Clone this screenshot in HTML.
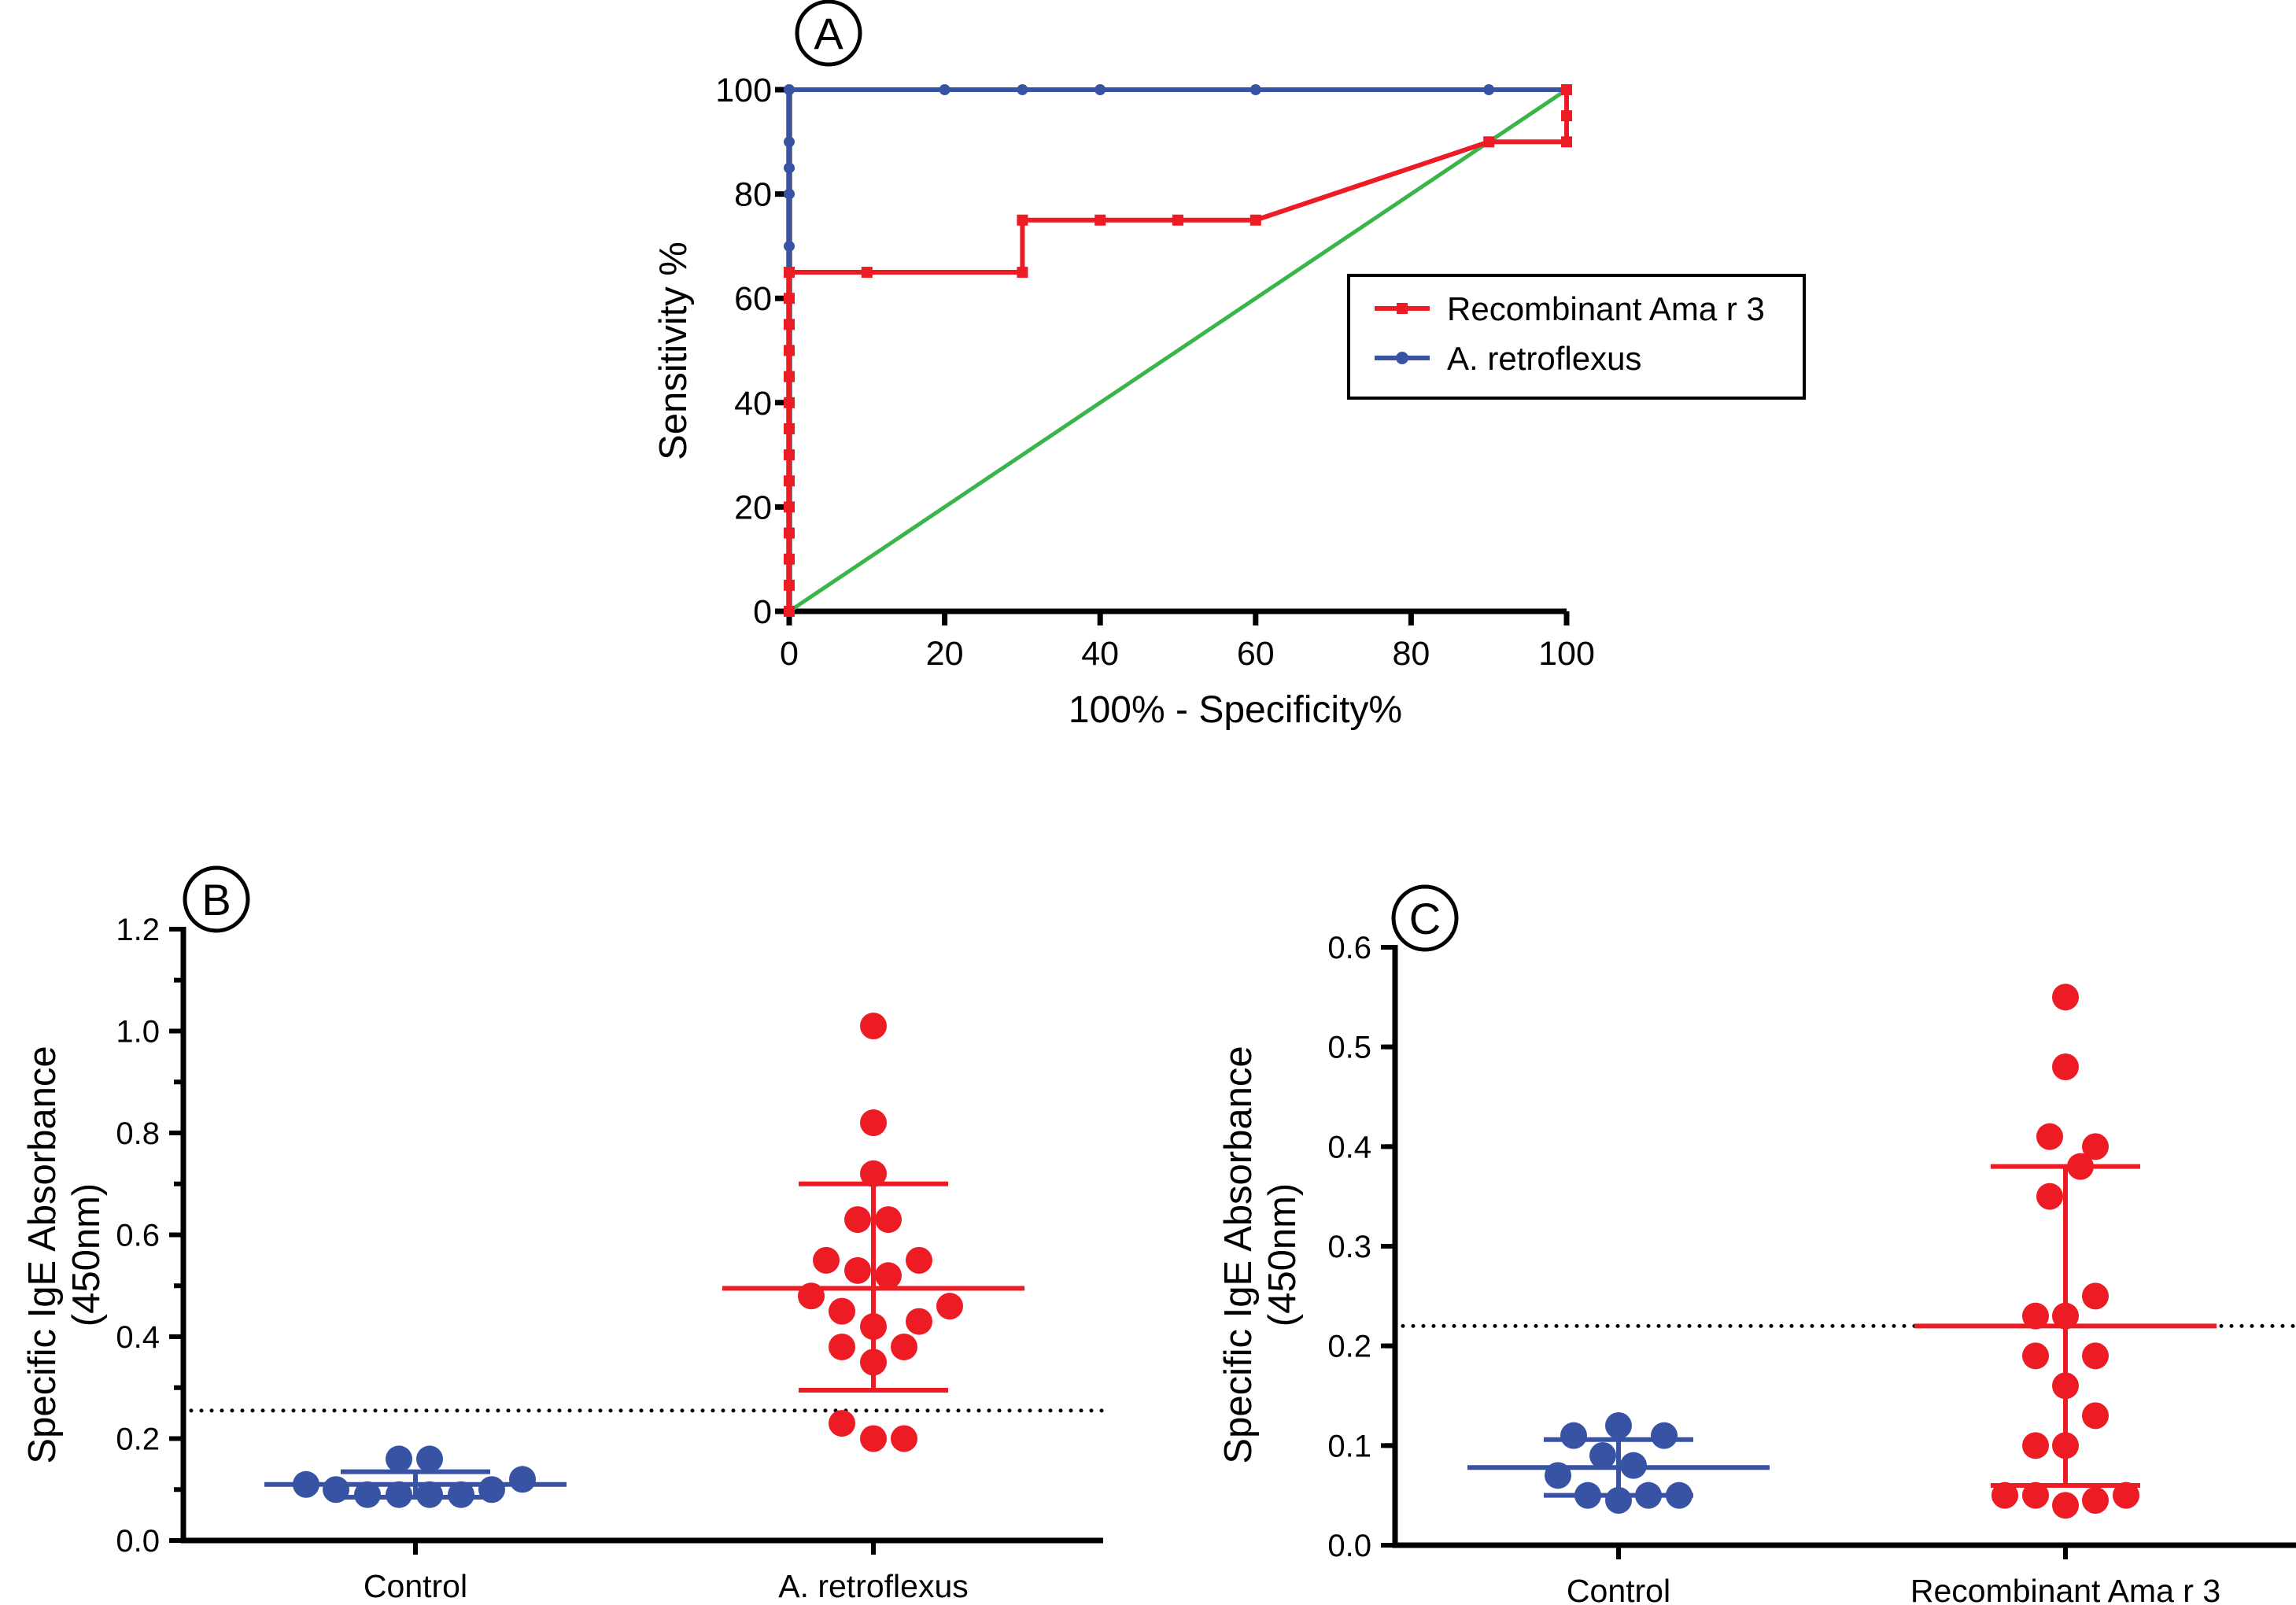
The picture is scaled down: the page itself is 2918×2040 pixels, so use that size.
<!DOCTYPE html>
<html><head><meta charset="utf-8"><style>
html,body{margin:0;padding:0;background:#fff;}
svg{display:block;font-family:"Liberation Sans",Arial,sans-serif;}
</style></head><body>
<svg id="fig" width="2918" height="2040" viewBox="0 0 2918 2040" xmlns="http://www.w3.org/2000/svg">
<g id="pa"></g>
<g id="pb"></g>
<g id="pc"></g>
</svg>
<script>
// ---- Panel A data ----
const rocTicks = [0,20,40,60,80,100];
const redX = [0,0,0,0,0,0,0,0,0,0,0,0,0,0,0,10,30,30,40,50,60,90,100,100,100];
const redY = [0,5,10,15,20,25,30,35,40,45,50,55,60,65,65,65,65,75,75,75,75,90,90,95,100];
const blueX = [0,0,0,0,0,0,0,20,30,40,60,90,100];
const blueY = [0,40,70,80,85,90,100,100,100,100,100,100,100];
const diagX = [0,100];
const diagY = [0,100];
// ---- Panel B data ----
const bTicks = [0.0,0.2,0.4,0.6,0.8,1.0,1.2];
const bCats = ["Control","A. retroflexus"];
const bCtrlVals = [0.11,0.10,0.09,0.09,0.09,0.09,0.10,0.12,0.16,0.16];
const bCtrlOff = [-139,-101,-61,-21,18,58,97,136,-21,18];
const bCtrlStats = [0.11,0.085,0.135];
const bRedVals = [1.01,0.82,0.72,0.63,0.63,0.55,0.55,0.53,0.52,0.48,0.46,0.45,0.43,0.42,0.38,0.38,0.35,0.23,0.20,0.20];
const bRedOff = [0,0,0,-20,19,-60,58,-20,19,-79,97,-40,58,0,-40,39,0,-40,0,39];
const bRedStats = [0.495,0.295,0.70];
const bCutoff = 0.255;
// ---- Panel C data ----
const cTicks = [0.0,0.1,0.2,0.3,0.4,0.5,0.6];
const cCats = ["Control","Recombinant Ama r 3"];
const cCtrlVals = [0.11,0.12,0.11,0.09,0.08,0.07,0.05,0.045,0.05,0.05];
const cCtrlOff = [-57,0,58,-20,19,-77,-39,0,38,77];
const cCtrlStats = [0.078,0.05,0.106];
const cRedVals = [0.55,0.48,0.41,0.40,0.38,0.35,0.25,0.23,0.23,0.19,0.19,0.16,0.13,0.10,0.10,0.05,0.05,0.04,0.045,0.05];
const cRedOff = [0,0,-20,38,19,-20,38,-38,0,-38,38,0,38,-38,0,-77,-38,0,38,77];
const cRedStats = [0.22,0.06,0.38];
const cCutoff = 0.22;

const NS="http://www.w3.org/2000/svg";
const RED="#ed1c24", BLUE="#3953a4", GREEN="#3ab54a";
function mk(parent,tag,attrs,text){const e=document.createElementNS(NS,tag);for(const k in attrs)e.setAttribute(k,attrs[k]);if(text!==undefined)e.textContent=text;parent.appendChild(e);return e;}

// ===== Panel A =====
(function(){
const g=document.getElementById('pa');
const X0=1003,X1=1991,Y0=777,Y1=114;
const sx=v=>X0+(X1-X0)*v/100, sy=v=>Y0-(Y0-Y1)*v/100;
let c=mk(g,'circle',{cx:1053,cy:42,r:40,fill:'none',stroke:'#000','stroke-width':5});


let t=mk(g,'text',{x:1053,y:62,'font-size':56,'text-anchor':'middle'},'A');


// axes first
let ax=mk(g,'path',{d:`M${X0} ${Y1-3}V${Y0}H${X1}`,fill:'none',stroke:'#000','stroke-width':7});


rocTicks.forEach(v=>{
 mk(g,'line',{x1:X0-18,y1:sy(v),x2:X0,y2:sy(v),stroke:'#000','stroke-width':7});
 let yl=mk(g,'text',{x:X0-22,y:sy(v)+15,'font-size':43,'text-anchor':'end'},String(v));
 
 
 mk(g,'line',{x1:sx(v),y1:Y0,x2:sx(v),y2:Y0+18,stroke:'#000','stroke-width':7});
 let xl=mk(g,'text',{x:sx(v),y:Y0+68,'font-size':43,'text-anchor':'middle'},String(v));
 
 
});
// diagonal
let d=mk(g,'line',{x1:sx(diagX[0]),y1:sy(diagY[0]),x2:sx(diagX[1]),y2:sy(diagY[1]),stroke:GREEN,'stroke-width':5});


// blue
let bp=mk(g,'polyline',{points:blueX.map((x,i)=>sx(x)+','+sy(blueY[i])).join(' '),fill:'none',stroke:BLUE,'stroke-width':6});


blueX.forEach((x,i)=>{let m=mk(g,'circle',{cx:sx(x),cy:sy(blueY[i]),r:7,fill:BLUE});

});
// red
let rp=mk(g,'polyline',{points:redX.map((x,i)=>sx(x)+','+sy(redY[i])).join(' '),fill:'none',stroke:RED,'stroke-width':6});


redX.forEach((x,i)=>{let m=mk(g,'rect',{x:sx(x)-7,y:sy(redY[i])-7,width:14,height:14,fill:RED});

});
let xt=mk(g,'text',{x:1570,y:918,'font-size':48,'text-anchor':'middle'},'100% - Specificity%');


let yt=mk(g,'text',{x:0,y:0,'font-size':49,'text-anchor':'middle',transform:'translate(872,446) rotate(-90)'},'Sensitivity %');


// legend
let lg=mk(g,'g',{});


mk(lg,'rect',{x:1714,y:350,width:579,height:156,fill:'#fff',stroke:'#000','stroke-width':4});
let e1=mk(lg,'g',{});


mk(e1,'line',{x1:1747,y1:392,x2:1817,y2:392,stroke:RED,'stroke-width':6});
mk(e1,'rect',{x:1775,y:385,width:14,height:14,fill:RED});
mk(e1,'text',{x:1839,y:407,'font-size':42},'Recombinant Ama r 3');
let e2=mk(lg,'g',{});


mk(e2,'line',{x1:1747,y1:455,x2:1817,y2:455,stroke:BLUE,'stroke-width':6});
mk(e2,'circle',{cx:1782,cy:455,r:8,fill:BLUE});
mk(e2,'text',{x:1839,y:470,'font-size':42},'A. retroflexus');
})();

// ===== Scatter panels =====
function scatter(gid,letter,lx,ly,AX,XEND,Y0,YT,tmax,ticks,minorStep,cats,catX,ctrlVals,ctrlOff,ctrlStats,redVals,redOff,redStats,cutoff,titleX){
const g=document.getElementById(gid);
const sy=v=>Y0-(Y0-YT)*v/tmax;
let c=mk(g,'circle',{cx:lx,cy:ly,r:40,fill:'none',stroke:'#000','stroke-width':5});


let t=mk(g,'text',{x:lx,y:ly+20,'font-size':56,'text-anchor':'middle'},letter);


// cutoff
let cl=mk(g,'line',{x1:AX+10,y1:sy(cutoff),x2:XEND,y2:sy(cutoff),stroke:'#000','stroke-width':5,'stroke-dasharray':'0 13','stroke-linecap':'round'});


function group(cx,vals,offs,stats,col,name){
 vals.forEach((v,i)=>{let p=mk(g,'circle',{cx:cx+offs[i],cy:sy(v),r:17,fill:col});
 
 });
 let m=mk(g,'line',{x1:cx-192,y1:sy(stats[0]),x2:cx+192,y2:sy(stats[0]),stroke:col,'stroke-width':6});
 
 
 let e=mk(g,'path',{d:`M${cx-95} ${sy(stats[1])}H${cx+95}M${cx-95} ${sy(stats[2])}H${cx+95}M${cx} ${sy(stats[1])}V${sy(stats[2])}`,stroke:col,'stroke-width':6,fill:'none'});
 
 
}
group(catX[0],ctrlVals,ctrlOff,ctrlStats,BLUE,'control');
group(catX[1],redVals,redOff,redStats,RED,'allergen');
let ax=mk(g,'path',{d:`M${AX} ${YT-3}V${Y0}H${XEND}`,fill:'none',stroke:'#000','stroke-width':7});


for(let v=0;v<=tmax+1e-9;v+=minorStep){mk(g,'line',{x1:AX-12,y1:sy(v),x2:AX,y2:sy(v),stroke:'#000','stroke-width':6});}
ticks.forEach(v=>{
 mk(g,'line',{x1:AX-18,y1:sy(v),x2:AX,y2:sy(v),stroke:'#000','stroke-width':6});
 let l=mk(g,'text',{x:AX-30,y:sy(v)+14,'font-size':40,'text-anchor':'end'},v.toFixed(1));
 
 
});
cats.forEach((n,i)=>{
 mk(g,'line',{x1:catX[i],y1:Y0,x2:catX[i],y2:Y0+18,stroke:'#000','stroke-width':6});
 let l=mk(g,'text',{x:catX[i],y:Y0+72,'font-size':41,'text-anchor':'middle'},n);
 
 
});
let y1=mk(g,'text',{x:0,y:0,'font-size':49,'text-anchor':'middle',transform:`translate(${titleX},1595) rotate(-90)`},'Specific IgE Absorbance');


let y2=mk(g,'text',{x:0,y:0,'font-size':49,'text-anchor':'middle',transform:`translate(${titleX+56},1595) rotate(-90)`},'(450nm)');


}
scatter('pb','B',275,1143,233,1402,1958,1181,1.2,bTicks,0.1,bCats,[528,1110],bCtrlVals,bCtrlOff,bCtrlStats,bRedVals,bRedOff,bRedStats,bCutoff,70);
scatter('pc','C',1811,1167,1773,2918,1964,1204,0.6,cTicks,0.1,cCats,[2057,2625],cCtrlVals,cCtrlOff,cCtrlStats,cRedVals,cRedOff,cRedStats,cCutoff,1590);
</script>
</body></html>
